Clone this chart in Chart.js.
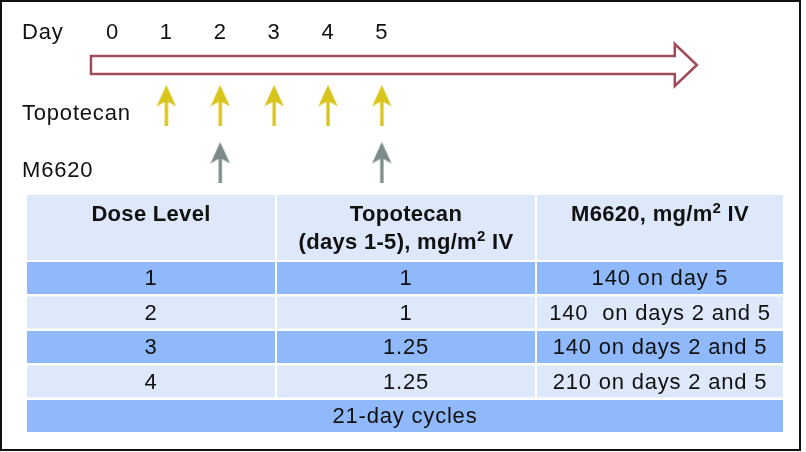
<!DOCTYPE html>
<html>
<head>
<meta charset="utf-8">
<script src="https://cdn.jsdelivr.net/npm/chart.js@4.4.1/dist/chart.umd.min.js"></script>
<style>
  html, body { margin: 0; padding: 0; background: #fff; }
  #wrap { width: 806px; height: 452px; }
</style>
</head>
<body>
<div id="wrap"><canvas id="schedule"></canvas></div>
<script>
const dayLabels = ['0', '1', '2', '3', '4', '5'];
const topotecanDays = [1, 2, 3, 4, 5];
const m6620Days = [2, 5];
const drugLanes = { Topotecan: 2, M6620: 1 };

const doseLevels = ['1', '2', '3', '4'];
const topotecanDose = ['1', '1', '1.25', '1.25'];
const m6620Dose = ['140 on day 5', '140  on days 2 and 5', '140 on days 2 and 5', '210 on days 2 and 5'];
const cycleNote = '21-day cycles';

const FONT = '"Liberation Sans", Arial, sans-serif';

const setRegular = (ctx) => {
  ctx.font = '22px ' + FONT;
  ctx.letterSpacing = '0.8px';
}

const arrowIcon = (color) => {
  const c = document.createElement('canvas');
  c.width = 20;
  c.height = 42;
  const g = c.getContext('2d');
  g.fillStyle = color;
  g.beginPath();
  g.moveTo(10, 0.5);
  g.lineTo(19.8, 22);
  g.lineTo(10, 16.5);
  g.lineTo(0.2, 22);
  g.closePath();
  g.fill();
  g.fillRect(8.4, 16, 3.3, 26);
  return c;
}

// draws text pieces (some superscript) centred at x
const richText = (ctx, parts, x, y) => {
  let total = 0;
  ctx.letterSpacing = '0.3px';
  parts.forEach(p => {
    ctx.font = 'bold ' + (p.sup ? '15px ' : '22px ') + FONT;
    p.w = ctx.measureText(p.t).width;
    total += p.w;
  });
  let cx = x - total / 2;
  ctx.textAlign = 'left';
  parts.forEach(p => {
    ctx.font = 'bold ' + (p.sup ? '15px ' : '22px ') + FONT;
    ctx.fillText(p.t, cx, p.sup ? y - 6 : y);
    cx += p.w;
  });
}

const scheduleDrawing = {
  id: 'scheduleDrawing',
  afterDraw(chart) {
    const ctx = chart.ctx;
    const xs = chart.scales.x;
    const ys = chart.scales.y;
    ctx.save();

    // frame
    ctx.strokeStyle = '#111';
    ctx.lineWidth = 2;
    ctx.strokeRect(1, 1, 799, 449);

    ctx.fillStyle = '#111';
    ctx.textBaseline = 'middle';

    // day axis labels
    setRegular(ctx);
    ctx.textAlign = 'left';
    ctx.fillText('Day', 22, 33);
    ctx.textAlign = 'center';
    dayLabels.forEach((d, i) => ctx.fillText(d, xs.getPixelForValue(i), 33));

    // timeline arrow
    const x0 = xs.getPixelForValue(-0.4);
    const xb = xs.getPixelForValue(10.44);
    const xt = xs.getPixelForValue(10.85);
    ctx.beginPath();
    ctx.moveTo(x0, 56);
    ctx.lineTo(xb, 56);
    ctx.lineTo(xb, 44);
    ctx.lineTo(xt, 65);
    ctx.lineTo(xb, 86);
    ctx.lineTo(xb, 74);
    ctx.lineTo(x0, 74);
    ctx.closePath();
    ctx.lineWidth = 2.5;
    ctx.strokeStyle = '#a04b5a';
    ctx.lineJoin = 'miter';
    ctx.stroke();

    // drug labels
    ctx.fillStyle = '#111';
    setRegular(ctx);
    ctx.textAlign = 'left';
    Object.keys(drugLanes).forEach(name => {
      ctx.fillText(name, 22, ys.getPixelForValue(drugLanes[name]) + 8.5);
    });

    // table
    const cols = [[27, 275], [277, 535], [537, 783]];
    const light = '#dde8fb';
    const dark = '#8fb9fa';
    const mid = c => (c[0] + c[1]) / 2;

    cols.forEach(c => {
      ctx.fillStyle = light;
      ctx.fillRect(c[0], 195, c[1] - c[0], 65);
    });
    ctx.fillStyle = '#111';
    ctx.textAlign = 'center';
    ctx.font = 'bold 22px ' + FONT;
    ctx.letterSpacing = '0.3px';
    ctx.fillText('Dose Level', mid(cols[0]), 215);
    ctx.fillText('Topotecan', mid(cols[1]), 215);
    richText(ctx, [{ t: '(days 1-5), mg/m' }, { t: '2', sup: true }, { t: ' IV' }], mid(cols[1]), 243);
    richText(ctx, [{ t: 'M6620, mg/m' }, { t: '2', sup: true }, { t: ' IV' }], mid(cols[2]), 215);

    doseLevels.forEach((lvl, i) => {
      const top = 262 + i * 34.5;
      const cells = [lvl, topotecanDose[i], m6620Dose[i]];
      cols.forEach((c, j) => {
        ctx.fillStyle = i % 2 === 0 ? dark : light;
        ctx.fillRect(c[0], top, c[1] - c[0], 32);
        ctx.fillStyle = '#111';
        setRegular(ctx);
        ctx.textAlign = 'center';
        ctx.fillText(cells[j], mid(c), top + 17);
      });
    });

    const ftop = 262 + 4 * 34.5;
    ctx.fillStyle = dark;
    ctx.fillRect(27, ftop, 756, 32);
    ctx.fillStyle = '#111';
    setRegular(ctx);
    ctx.textAlign = 'center';
    ctx.fillText(cycleNote, 405, ftop + 17);

    ctx.restore();
  }
}

const data = {
  datasets: [
    {
      label: 'Topotecan',
      data: topotecanDays.map(d => ({ x: d, y: drugLanes.Topotecan })),
      pointStyle: arrowIcon('#d8c41a'),
      pointRadius: 10,
      clip: false
    },
    {
      label: 'M6620',
      data: m6620Days.map(d => ({ x: d, y: drugLanes.M6620 })),
      pointStyle: arrowIcon('#7a8b89'),
      pointRadius: 10,
      clip: false
    }
  ]
}

const config = {
  type: 'scatter',
  data: data,
  options: {
    responsive: true,
    maintainAspectRatio: false,
    animation: false,
    layout: { padding: 0, autoPadding: false },
    plugins: {
      legend: { display: false },
      tooltip: { enabled: false }
    },
    scales: {
      x: { type: 'linear', min: -2.089, max: 12.876, display: false },
      y: { type: 'linear', min: -4.08, max: 3.85, display: false }
    }
  },
  plugins: [scheduleDrawing]
}

new Chart(document.getElementById('schedule'), config);
</script>
</body>
</html>
